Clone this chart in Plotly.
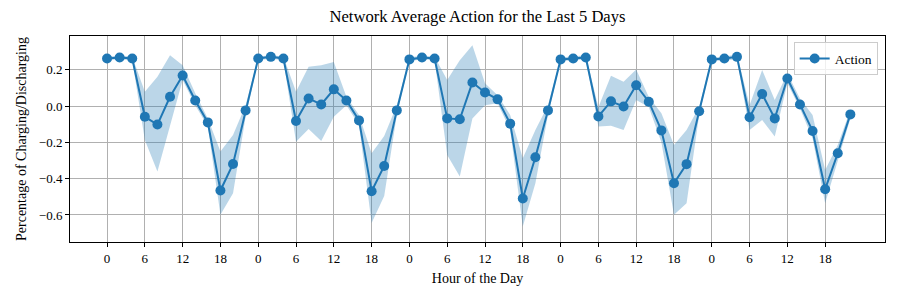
import plotly.graph_objects as go

# Hours sampled each day (every 2 hours), 5 days
hours = [0, 2, 4, 6, 8, 10, 12, 14, 16, 18, 20, 22]
n_days = 5

mean_action = [
    0.262, 0.268, 0.262, -0.059, -0.102, 0.051, 0.168, 0.031, -0.090, -0.465, -0.319, -0.024,
    0.262, 0.271, 0.262, -0.082, 0.042, 0.009, 0.092, 0.031, -0.079, -0.469, -0.330, -0.024,
    0.257, 0.268, 0.262, -0.068, -0.073, 0.130, 0.075, 0.037, -0.097, -0.509, -0.282, -0.024,
    0.257, 0.262, 0.268, -0.057, 0.026, -0.002, 0.115, 0.024, -0.134, -0.425, -0.320, -0.029,
    0.257, 0.262, 0.271, -0.062, 0.066, -0.068, 0.152, 0.009, -0.137, -0.458, -0.260, -0.046,
]
upper_band = [
    0.272, 0.278, 0.272, 0.079, 0.161, 0.280, 0.225, 0.070, -0.068, -0.251, -0.159, 0.005,
    0.272, 0.281, 0.272, 0.079, 0.216, 0.225, 0.243, 0.051, -0.049, -0.260, -0.165, 0.005,
    0.267, 0.278, 0.272, 0.143, 0.253, 0.335, 0.125, 0.060, -0.049, -0.287, -0.132, 0.005,
    0.267, 0.272, 0.280, -0.007, 0.167, 0.134, 0.201, 0.050, -0.040, -0.214, -0.132, -0.004,
    0.267, 0.272, 0.285, 0.005, 0.198, 0.033, 0.180, 0.042, -0.049, -0.352, -0.214, -0.022,
]
lower_band = [
    0.252, 0.258, 0.252, -0.187, -0.361, -0.113, 0.143, 0.005, -0.113, -0.599, -0.480, -0.059,
    0.252, 0.261, 0.252, -0.196, -0.126, -0.192, -0.059, 0.005, -0.104, -0.645, -0.495, -0.049,
    0.247, 0.258, 0.252, -0.269, -0.388, -0.068, 0.005, 0.015, -0.132, -0.663, -0.425, -0.049,
    0.247, 0.252, 0.256, -0.113, -0.108, -0.132, 0.033, -0.005, -0.200, -0.599, -0.535, -0.049,
    0.247, 0.252, 0.257, -0.132, -0.077, -0.168, 0.125, -0.013, -0.178, -0.535, -0.297, -0.068,
]
tick_labels = ["0", "6", "12", "18"] * n_days

x = list(range(len(mean_action)))
tick_vals = [i for i in x if hours[i % len(hours)] % 6 == 0]

blue = "#1f77b4"
font_family = "Liberation Serif"

fig = go.Figure()
fig.add_trace(go.Scatter(x=x, y=upper_band, mode="lines", line=dict(width=0),
                         showlegend=False, hoverinfo="skip"))
fig.add_trace(go.Scatter(x=x, y=lower_band, mode="lines", line=dict(width=0),
                         fill="tonexty", fillcolor="rgba(31,119,180,0.3)",
                         showlegend=False, hoverinfo="skip"))
fig.add_trace(go.Scatter(x=x, y=mean_action, mode="lines+markers", name="Action",
                         line=dict(color=blue, width=2),
                         marker=dict(color=blue, size=10)))

axis_common = dict(showline=True, linecolor="black", linewidth=1, mirror=True,
                   ticks="outside", ticklen=4, tickcolor="black",
                   showgrid=True, gridcolor="#b0b0b0", gridwidth=1, zeroline=False,
                   tickfont=dict(family=font_family, size=13, color="black"))

# the page body adds an 8px offset, so margins are compensated
fig.update_layout(
    width=900, height=300,
    margin=dict(l=62, r=23, t=28, b=66),
    paper_bgcolor="white", plot_bgcolor="white",
    font=dict(family=font_family, size=13, color="black"),
    title=dict(text="Network Average Action for the Last 5 Days", x=0.5, xref="paper",
               xanchor="center", y=0.992, yanchor="top",
               font=dict(family=font_family, size=16.6, color="black")),
    xaxis=dict(axis_common, range=[-2.94, 61.75], tickmode="array",
               tickvals=tick_vals, ticktext=tick_labels,
               title=dict(text="Hour of the Day", standoff=8,
                          font=dict(family=font_family, size=14))),
    yaxis=dict(axis_common, range=[-0.749, 0.386], tickmode="array",
               tickvals=[-0.6, -0.4, -0.2, 0.0, 0.2], tickformat=".1f",
               title=dict(text="Percentage of Charging/Discharging", standoff=8,
                          font=dict(family=font_family, size=14))),
    legend=dict(x=0.991, y=0.97, xanchor="right", yanchor="top",
                bgcolor="rgba(255,255,255,0.8)", bordercolor="#cccccc", borderwidth=1,
                font=dict(family=font_family, size=13.5)),
)

fig.write_html("out.html")
